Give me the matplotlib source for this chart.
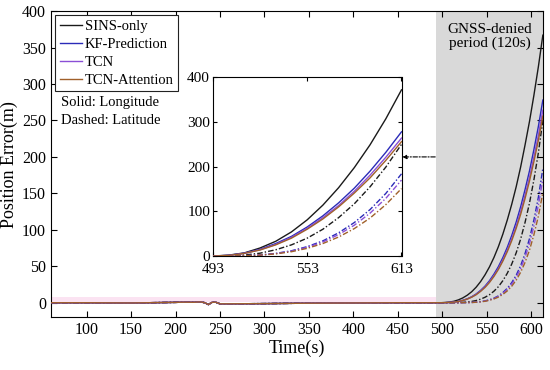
import matplotlib
matplotlib.use("Agg")
import matplotlib.pyplot as plt
import numpy as np

plt.rcParams['font.family'] = ['Liberation Serif', 'DejaVu Serif']

# ---------------- data ----------------
# before GNSS outage (all methods overlap near zero)
t_pre = [60, 100, 150, 200, 210, 220, 228, 233, 237, 241, 245, 250, 260, 300, 350, 400, 450, 488]
v_pre = [0, 0, -0.3, 0.5, 0.8, 0.6, 1.2, 0.0, -2.5, 0.5, 0.8, -1.5, -1.5, -1.2, -0.6, -0.3, 0.0, 0.0]

# GNSS-denied period, main panel (every 5 s)
t_den = [493, 498, 503, 508, 513, 518, 523, 528, 533, 538, 543, 548, 553,
         558, 563, 568, 573, 578, 583, 588, 593, 598, 603, 608, 613]
sins_lon = [0, 0, 0.3, 0.9, 2.0, 3.9, 6.6, 10.3, 15.1, 21.3, 29, 38.3, 49.2,
            62, 76.9, 94, 113.4, 135, 159, 186, 216.5, 248.8, 285, 324, 367]
kf_lon = [0, 0, 0.1, 0.4, 0.9, 1.8, 3.3, 5.4, 8.2, 12, 16.9, 22.8, 30.2,
          39.2, 49.5, 61.8, 76, 92.2, 110.6, 131.5, 155.3, 181, 210.5, 242, 278]
tcn_lon = [0, 0, 0.1, 0.4, 0.9, 1.7, 3.1, 5.1, 7.8, 11.4, 16, 21.7, 28.7,
           37.2, 47, 58.7, 72.2, 87.6, 105, 125, 147.5, 172, 200, 230, 264]
att_lon = [0, 0, 0.1, 0.4, 0.8, 1.7, 3, 5, 7.6, 11, 15.6, 21, 27.8,
           36, 45.6, 57, 70, 85, 102, 121, 143, 167, 194, 223, 256]
sins_lat = [0, 0, 0, 0, 0.1, 0.2, 0.5, 1.0, 1.8, 3.0, 4.9, 7.5, 11,
            15.8, 22, 30.2, 40.4, 53, 68.4, 87.2, 110.2, 136.8, 169, 206, 250]
kf_lat = [0, 0, 0, 0, 0, 0, 0.1, 0.2, 0.4, 0.8, 1.5, 2.5, 4.1,
          6.3, 9.4, 13.9, 19.8, 27.6, 37.7, 50.8, 67.6, 88, 114, 145, 184]
tcn_lat = [0, 0, 0, 0, 0, 0, 0.1, 0.2, 0.4, 0.7, 1.4, 2.3, 3.8,
           5.8, 8.7, 12.8, 18.3, 25.5, 34.8, 46.9, 62.5, 81.3, 105.3, 134, 170]
att_lat = [0, 0, 0, 0, 0, 0, 0.1, 0.2, 0.3, 0.7, 1.2, 2, 3.4,
           5.2, 7.7, 11.4, 16.2, 22.6, 30.9, 41.7, 55.4, 72.2, 93.5, 119, 151]

# zoomed inset (every 10 s)
t_ins = [493, 503, 513, 523, 533, 543, 553, 563, 573, 583, 593, 603, 613]
ins_sins_lon = [0, 2, 7, 18, 33, 54, 81, 114, 153, 198, 249, 307, 372]
ins_kf_lon = [0, 1.5, 6.5, 15, 28, 44, 65, 90, 119, 152, 190, 232, 278]
ins_tcn_lon = [0, 1.4, 6, 14, 26, 42, 62, 86, 113, 145, 181, 221, 264]
ins_att_lon = [0, 1.3, 5.8, 13.5, 25, 40, 60, 83, 110, 141, 175, 214, 256]
ins_sins_lat = [0, 0.4, 2.2, 6.4, 14, 25, 40, 60, 86, 117, 155, 199, 250]
ins_kf_lat = [0, 0.1, 0.7, 2.4, 5.9, 11.8, 21, 34, 52, 75, 104, 140, 184]
ins_tcn_lat = [0, 0.1, 0.6, 2.2, 5.5, 11, 19.5, 31.5, 48, 69, 96, 129, 170]
ins_att_lat = [0, 0.1, 0.6, 2.0, 4.8, 9.7, 17.2, 28, 42.6, 61.5, 85, 115, 151]

names = ['SINS-only', 'KF-Prediction', 'TCN', 'TCN-Attention']
colors = ['#1a1a1a', '#2b2bb8', '#8a4fd6', '#a0602a']

DASH = (0, (4, 1.5, 1, 1.5))

fig = plt.figure(figsize=(5.5, 3.7), dpi=100)
ax = fig.add_axes([0.0927, 0.1424, 0.8943, 0.8276])

ax.axvspan(493, 613, color='#d9d9d9', zorder=0, lw=0)
ax.fill_between([60, 493], [0.8, 0.8], [8, 8], color='#fbe3f2', lw=0, zorder=0.5)

t_main = np.array(t_pre + t_den)
main_lon = [sins_lon, kf_lon, tcn_lon, att_lon]
main_lat = [sins_lat, kf_lat, tcn_lat, att_lat]
for c, la in zip(colors, main_lat):
    ax.plot(t_main, np.array(v_pre + la), color=c, lw=1.0, ls=DASH, zorder=2)
for n, c, lo in zip(names, colors, main_lon):
    ax.plot(t_main, np.array(v_pre + lo), color=c, lw=1.0, label=n, zorder=3)

ax.set_xlim(60, 613)
ax.set_ylim(-20, 400)
ax.set_xticks(np.arange(100, 601, 50))
ax.set_yticks(np.arange(0, 401, 50))
ax.tick_params(direction='in', top=True, right=True, labelsize=11.5, length=4, width=0.8)
ax.set_xlabel('Time(s)', fontsize=13, labelpad=1)
ax.set_ylabel('Position Error(m)', fontsize=13, labelpad=3)
for s in ax.spines.values():
    s.set_linewidth(0.8)

leg = ax.legend(loc='upper left', fontsize=10.5, handlelength=1.5, handletextpad=0.2,
                borderpad=0.3, labelspacing=0.32, fancybox=False, framealpha=1,
                edgecolor='#222222', borderaxespad=0.3)
leg.get_frame().set_linewidth(0.8)

ax.text(0.02, 0.703, 'Solid: Longitude', transform=ax.transAxes, fontsize=10.5, va='center')
ax.text(0.02, 0.644, 'Dashed: Latitude', transform=ax.transAxes, fontsize=10.5, va='center')
ax.text(553, 365, 'GNSS-denied\nperiod (120s)', ha='center', va='center', fontsize=11,
        linespacing=1.1)

ax.annotate('', xy=(455, 200), xytext=(492, 200),
            arrowprops=dict(arrowstyle='-|>', color='black', lw=0.8,
                            ls=DASH, mutation_scale=6, shrinkA=0, shrinkB=0))

# ---------------- inset ----------------
ins = fig.add_axes([0.387, 0.308, 0.343, 0.483])
ins_lon = [ins_sins_lon, ins_kf_lon, ins_tcn_lon, ins_att_lon]
ins_lat = [ins_sins_lat, ins_kf_lat, ins_tcn_lat, ins_att_lat]
for c, la in zip(colors, ins_lat):
    ins.plot(t_ins, la, color=c, lw=1.0, ls=DASH, zorder=2)
for c, lo in zip(colors, ins_lon):
    ins.plot(t_ins, lo, color=c, lw=1.0, zorder=3)
ins.set_xlim(493, 613)
ins.set_ylim(0, 400)
ins.set_xticks([493, 553, 613])
ins.set_yticks([0, 100, 200, 300, 400])
ins.tick_params(direction='in', top=True, right=True, labelsize=11, length=3, width=0.8)
ins.tick_params(axis='x', pad=5)
ins.tick_params(axis='y', pad=2)
for s in ins.spines.values():
    s.set_linewidth(0.8)

fig.savefig('out.png', dpi=100)
